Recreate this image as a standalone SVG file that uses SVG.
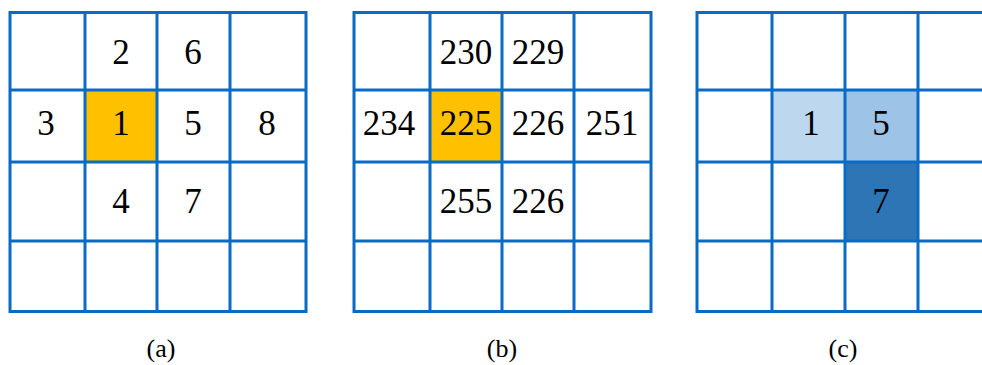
<svg xmlns="http://www.w3.org/2000/svg" width="982" height="365" viewBox="0 0 982 365">
<style>
.g{fill:none;stroke:#0A6BC4;stroke-width:3;stroke-linecap:square}
.t{font-family:'Liberation Serif','Times New Roman',Times,'DejaVu Serif',serif;font-size:35px;fill:#000;text-anchor:middle}
.l{font-family:'Liberation Serif','Times New Roman',Times,'DejaVu Serif',serif;font-size:26px;fill:#000;text-anchor:middle}
</style>
<rect width="982" height="365" fill="#fff"/>
<g id="grid-a">
<rect x="85" y="90" width="72" height="72" fill="#FFC000"/>
<path class="g" d="M10 12.5H306V311.5H10Z M85 12.5V311.5 M157 12.5V311.5 M230 12.5V311.5 M10 90H306 M10 162H306 M10 241H306"/>
<text class="t" x="121" y="64">2</text>
<text class="t" x="193" y="64">6</text>
<text class="t" x="46" y="135">3</text>
<text class="t" x="121" y="135">1</text>
<text class="t" x="193" y="135">5</text>
<text class="t" x="267" y="135">8</text>
<text class="t" x="121" y="213">4</text>
<text class="t" x="193" y="213">7</text>
<text class="l" x="161" y="357">(a)</text>
</g>
<g id="grid-b">
<rect x="430" y="90" width="72" height="72" fill="#FFC000"/>
<path class="g" d="M354 12.5H651V311.5H354Z M430 12.5V311.5 M502 12.5V311.5 M574 12.5V311.5 M354 90H651 M354 162H651 M354 241H651"/>
<text class="t" x="466" y="64">230</text>
<text class="t" x="538" y="64">229</text>
<text class="t" x="389" y="135">234</text>
<text class="t" x="466" y="135">225</text>
<text class="t" x="538" y="135">226</text>
<text class="t" x="612" y="135">251</text>
<text class="t" x="466" y="213">255</text>
<text class="t" x="538" y="213">226</text>
<text class="l" x="502" y="357">(b)</text>
</g>
<g id="grid-c">
<rect x="772" y="90" width="73" height="72" fill="#BDD7EE"/>
<rect x="845" y="90" width="73" height="72" fill="#9DC3E6"/>
<rect x="845" y="162" width="73" height="79" fill="#2E75B6"/>
<path class="g" d="M995 12.5H697V311.5H995 M772 12.5V311.5 M845 12.5V311.5 M918 12.5V311.5 M697 90H995 M697 162H995 M697 241H995"/>
<text class="t" x="811" y="135">1</text>
<text class="t" x="881" y="135">5</text>
<text class="t" x="881" y="213">7</text>
<text class="l" x="843" y="357">(c)</text>
</g>
</svg>
